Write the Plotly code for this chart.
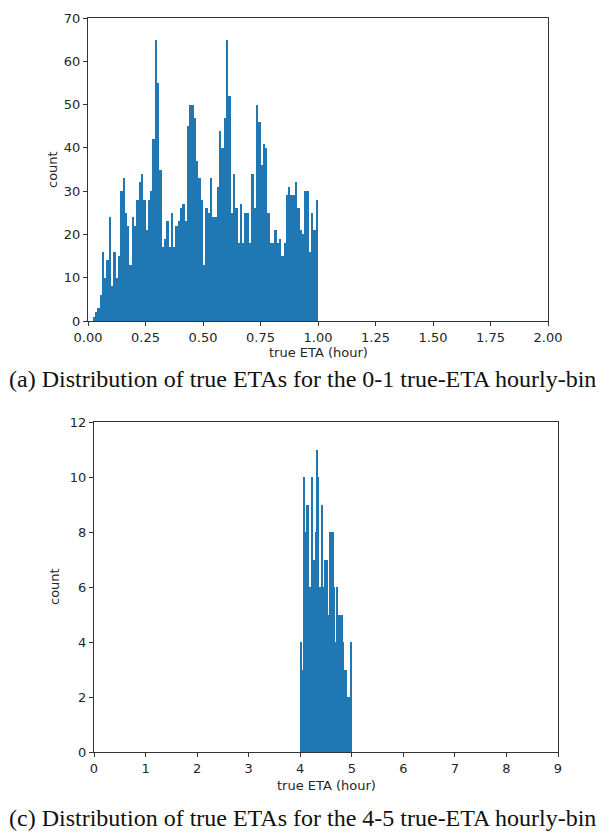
import plotly.graph_objects as go

# Panel (a): hourly bin 0-1, bins of 0.01 hour
a_bin_start = 0.02
a_bin_width = 0.01
a_counts = [1, 2, 3, 6, 16, 10, 14, 24, 8, 16, 10, 15, 30, 33, 25, 22, 13, 24, 22, 28,
            32, 34, 28, 21, 28, 30, 42, 65, 55, 35, 17, 19, 23, 17, 25, 17, 22, 23, 26, 27,
            23, 45, 50, 50, 47, 37, 33, 28,
            13, 26, 25, 33, 24, 24, 31, 44, 40, 47, 65, 52, 25, 34, 26, 18, 27, 18, 25, 25,
            18, 34, 26, 50, 46, 36, 41, 40, 25, 18, 18, 21, 18, 19, 15, 18, 29, 31, 29, 29,
            32, 26, 21, 20, 30, 30, 16, 25, 21, 28]

# Panel (c): hourly bin 4-5, bins of 0.02 hour
c_bin_start = 4.0
c_bin_width = 0.02
c_counts = [4, 3, 3, 10, 8, 6, 9, 9, 6, 6, 6, 10, 7, 7, 3, 8, 11, 10, 5, 6,
            6, 9, 6, 6, 7, 7, 5, 5, 8, 3, 8, 8, 6, 4, 4, 6, 5, 5, 1, 5,
            5, 4, 2, 3, 3, 2, 2, 1, 2, 4]

a_x = [a_bin_start + a_bin_width * (i + 0.5) for i in range(len(a_counts))]
c_x = [c_bin_start + c_bin_width * (i + 0.5) for i in range(len(c_counts))]

a_ticks = [0, 0.25, 0.5, 0.75, 1.0, 1.25, 1.5, 1.75, 2.0]
c_ticks = list(range(0, 10))

x_title = "true ETA (hour)"
y_title = "count"
caption_a = "(a) Distribution of true ETAs for the 0-1 true-ETA hourly-bin"
caption_c = "(c) Distribution of true ETAs for the 4-5 true-ETA hourly-bin"

BLUE = "#1f77b4"
W, H = 605, 833

fig = go.Figure()
fig.add_trace(go.Bar(x=a_x, y=a_counts, width=a_bin_width, marker=dict(color=BLUE, line=dict(width=0)),
                     xaxis="x", yaxis="y", showlegend=False))
fig.add_trace(go.Bar(x=c_x, y=c_counts, width=c_bin_width, marker=dict(color=BLUE, line=dict(width=0)),
                     xaxis="x2", yaxis="y2", showlegend=False))

TXT = "#262626"
tickfont = dict(family="DejaVu Sans", size=13, color=TXT)
titlefont = dict(family="DejaVu Sans", size=13, color=TXT)
common = dict(showline=True, mirror=True, linecolor="#333333", linewidth=1, showgrid=False,
              zeroline=False, ticks="outside", ticklen=4, tickcolor="#333333", tickfont=tickfont,
              automargin=False)

def px_x(p):
    return p / W

def px_y(p):
    return 1 - p / H

fig.update_layout(
    width=W, height=H,
    margin=dict(l=0, r=0, t=0, b=0),
    paper_bgcolor="white", plot_bgcolor="white",
    bargap=0,
    xaxis=dict(domain=[px_x(88), px_x(548)], range=[0, 2], tickvals=a_ticks, tickformat=".2f",
               anchor="y", **common),
    yaxis=dict(domain=[px_y(321), px_y(18)], range=[0, 70], dtick=10, anchor="x", **common),
    xaxis2=dict(domain=[px_x(94), px_x(558)], range=[0, 9], tickvals=c_ticks, anchor="y2", **common),
    yaxis2=dict(domain=[px_y(752), px_y(422)], range=[0, 12], dtick=2, anchor="x2", **common),
)

ann = [
    dict(text=x_title, x=px_x(318), y=px_y(352), font=titlefont),
    dict(text=y_title, x=px_x(52), y=px_y(170), font=titlefont, textangle=-90),
    dict(text=x_title, x=px_x(326), y=px_y(785), font=titlefont),
    dict(text=y_title, x=px_x(54), y=px_y(587), font=titlefont, textangle=-90),
    dict(text=caption_a, x=px_x(302), y=px_y(379),
         font=dict(family="Liberation Serif", size=24, color="#111111")),
    dict(text=caption_c, x=px_x(302), y=px_y(818),
         font=dict(family="Liberation Serif", size=24, color="#111111")),
]
for a in ann:
    a.update(xref="paper", yref="paper", xanchor="center", yanchor="middle", showarrow=False)
fig.update_layout(annotations=ann)

fig.write_html("out.html")
